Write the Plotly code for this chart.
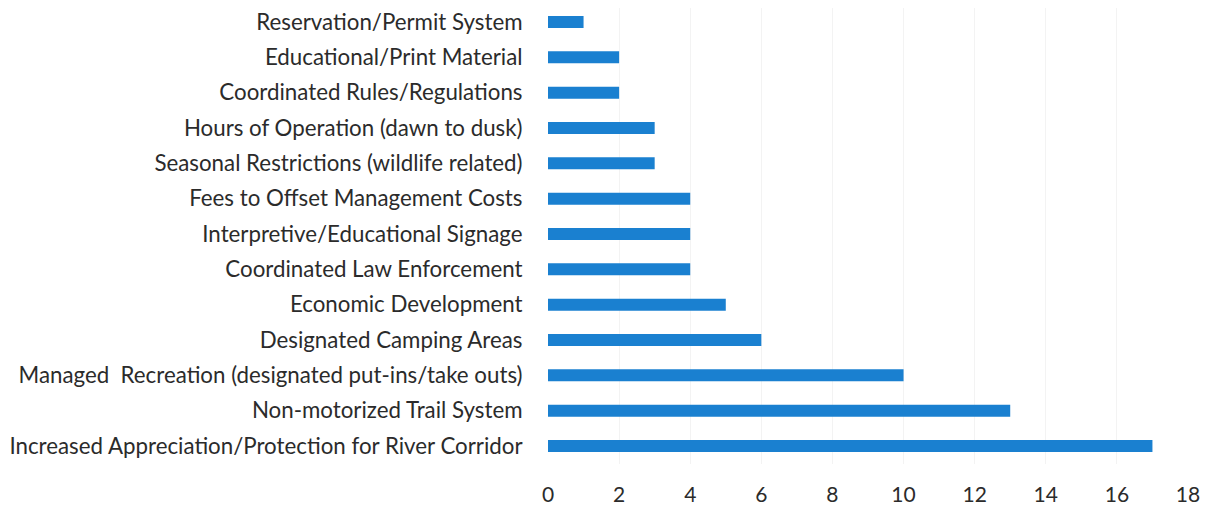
import plotly.graph_objects as go

# categories top to bottom as in the picture
categories = [
    "Reservation/Permit System",
    "Educational/Print Material",
    "Coordinated Rules/Regulations",
    "Hours of Operation (dawn to dusk)",
    "Seasonal Restrictions (wildlife related)",
    "Fees to Offset Management Costs",
    "Interpretive/Educational Signage",
    "Coordinated Law Enforcement",
    "Economic Development",
    "Designated Camping Areas",
    "Managed  Recreation (designated put-ins/take outs)",
    "Non-motorized Trail System",
    "Increased Appreciation/Protection for River Corridor",
]
counts = [1, 2, 2, 3, 3, 4, 4, 4, 5, 6, 10, 13, 17]
tick_vals = [0, 2, 4, 6, 8, 10, 12, 14, 16, 18]

fig = go.Figure(go.Bar(
    x=counts,
    y=categories,
    orientation="h",
    width=0.34,
    marker=dict(color="#1a80d0", line=dict(width=0)),
))

# page body has an 8px margin, so the figure is a bit smaller than the window
fig.update_layout(
    width=1201, height=504,
    margin=dict(l=540, r=21, t=0, b=48),
    plot_bgcolor="white", paper_bgcolor="white",
    font=dict(family="Lato", size=22, color="#2b2b2b"),
    showlegend=False,
)
fig.update_xaxes(
    range=[0, 18], tickvals=tick_vals, automargin=False,
    showgrid=True, gridcolor="#f3f3f3", gridwidth=1,
    zeroline=False, showline=False,
    ticks="outside", ticklen=12, tickcolor="rgba(0,0,0,0)",
    tickfont=dict(size=21),
)
fig.update_yaxes(
    categoryorder="array", categoryarray=categories[::-1], automargin=False,
    range=[-0.51, 12.396],
    showgrid=False, ticks="outside", ticklen=20, tickcolor="rgba(0,0,0,0)",
    tickfont=dict(size=22.3),
)

fig.write_html("out.html")
